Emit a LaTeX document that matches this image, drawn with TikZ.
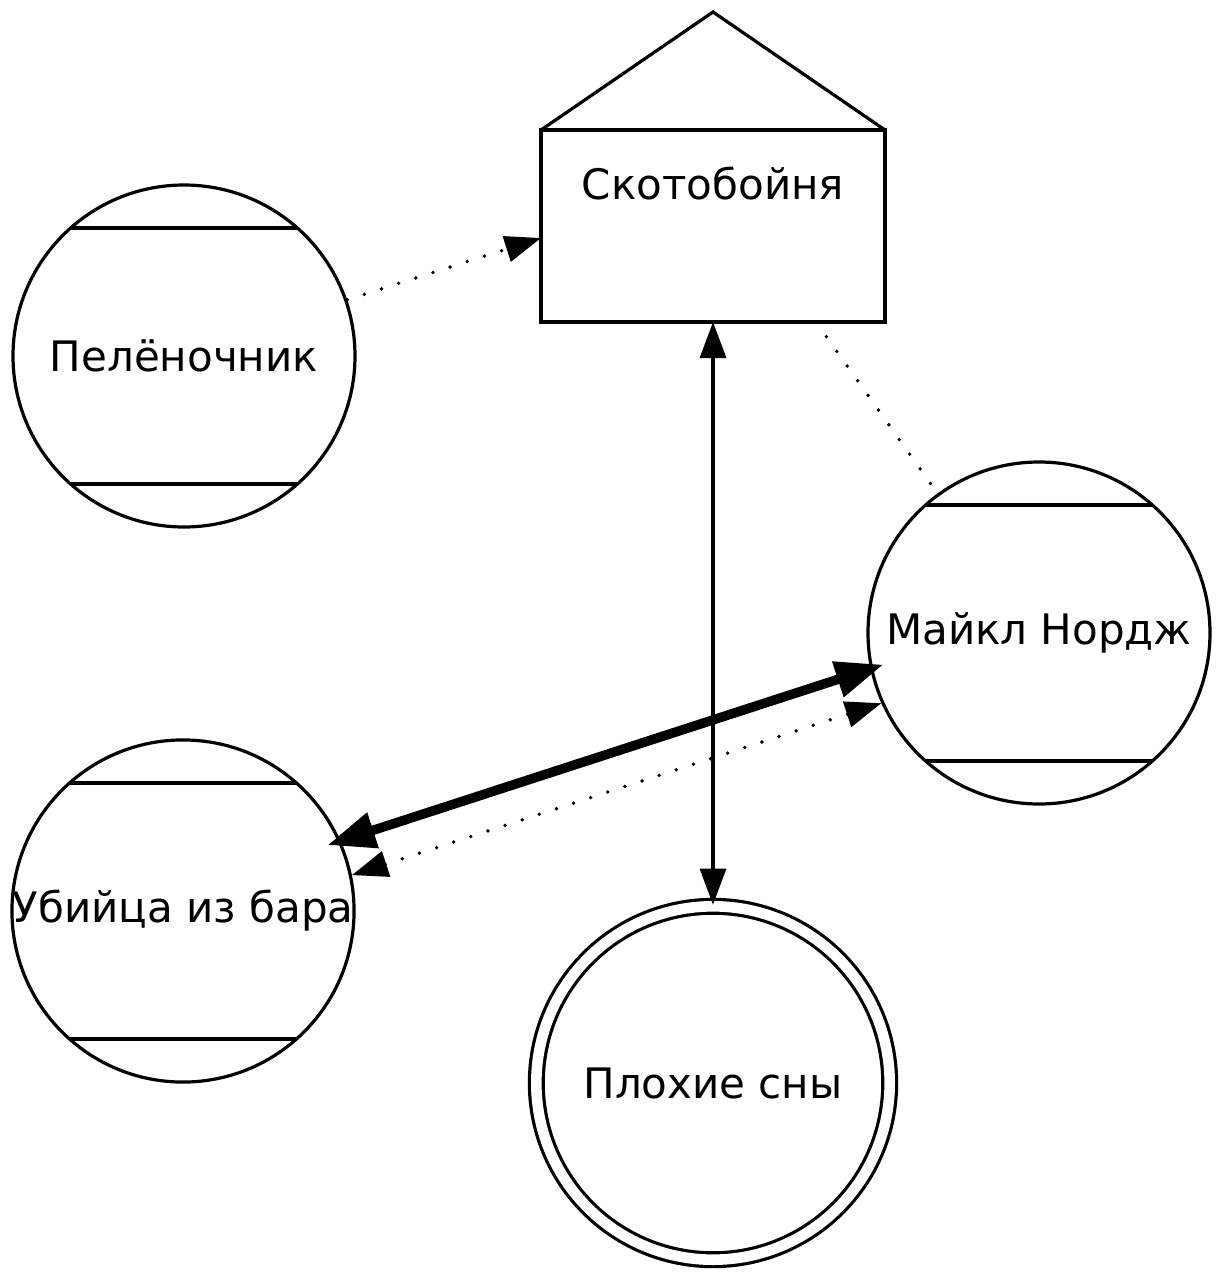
\documentclass[tikz,border=0pt]{standalone}
\usepackage{fontspec}
\setmainfont{DejaVu Sans}
\usetikzlibrary{arrows.meta}

\begin{document}
\begin{tikzpicture}[x=0.5pt,y=-0.5pt,>={Triangle[length=18pt,width=13pt]},line width=1.6pt,
    font=\fontsize{21}{26}\selectfont,
    role/.style={circle,draw,minimum size=171pt,inner sep=0pt,
        path picture={\draw[line width=1.6pt]
            ([yshift=64pt]path picture bounding box.west) -- ([yshift=64pt]path picture bounding box.east)
            ([yshift=-64pt]path picture bounding box.west) -- ([yshift=-64pt]path picture bounding box.east);}},
    dream/.style={circle,draw,double,double distance=5.3pt,minimum size=176.7pt,inner sep=0pt},
    barn/.style={rectangle,draw,minimum width=172pt,minimum height=96pt,outer sep=0pt},
    link/.style={line width=1.9pt,line cap=round,dash pattern=on 0pt off 9pt},
    heavy/.style={line width=4.75pt,>={Triangle[length=24pt,width=17.5pt]},shorten <=-7pt,shorten >=-7pt}]
    \useasboundingbox (0,0) rectangle (1223,1280);
    \node[barn,label={[name=barnlabel,yshift=21.5pt]center:Скотобойня}] (barn) at (713,226) {};
    \draw[line join=miter] (barn.north west) -- ([yshift=59pt]barn.north) -- (barn.north east);
    \node[role]   (pel)    at (184,356)    {Пелёночник};
    \node[role]   (mike)   at (1039,633)   {Майкл Нордж};
    \node[role]   (killer) at (183,911)    {Убийца из бара};
    \node[dream]  (bad)    at (713,1083)   {Плохие сны};
    \draw[link,->] (pel.19) to (barn.184);
    \draw[link] (barn.-43) to (mike.126);
    \draw[<->] (barn) to (bad);
    \draw[<->,heavy] (killer.24) to (mike.192);
    \draw[link,<->] (killer.12) to (mike.204);
\end{tikzpicture}
\end{document}
